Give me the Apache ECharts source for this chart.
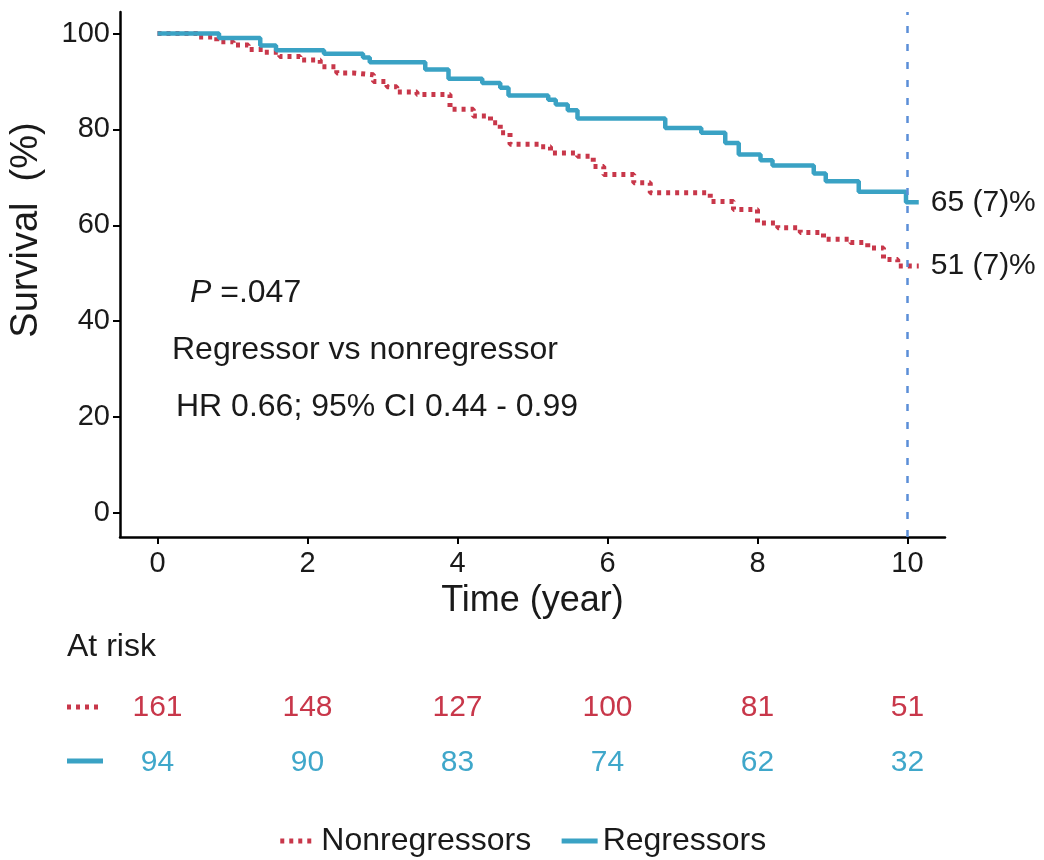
<!DOCTYPE html>
<html>
<head>
<meta charset="utf-8">
<script src="https://cdn.jsdelivr.net/npm/echarts@6/dist/echarts.min.js"></script>
<style>
html,body{margin:0;padding:0;background:#fff;}
#chart{width:1044px;height:860px;}
</style>
</head>
<body>
<div id="chart"></div>
<script>
// ---- data ----
const seriesNames = ['Nonregressors', 'Regressors'];
const xTicks = [0, 2, 4, 6, 8, 10];
const yTicks = [0, 20, 40, 60, 80, 100];
// Kaplan-Meier steps: time (year) and survival (%) after each drop
const nonTime = [0, 0.53, 0.79, 1.01, 1.21, 1.41, 1.63, 1.90, 2.17, 2.39, 2.61, 2.88, 3.06, 3.19, 3.46, 3.90, 4.21, 4.44, 4.57, 4.70, 5.10, 5.24, 5.60, 5.81, 5.95, 6.35, 6.57, 7.37, 7.68, 8.00, 8.27, 8.57, 8.88, 9.24, 9.47, 9.68, 9.87, 10.15];
const nonSurv = [100, 99.3, 98.3, 97.6, 96.7, 96.1, 95.2, 94.5, 93.1, 91.8, 91.4, 90.0, 88.9, 87.8, 87.3, 84.2, 82.8, 81.4, 79.3, 76.9, 76.4, 75.1, 74.4, 72.3, 70.6, 68.9, 66.8, 65.0, 63.3, 60.5, 59.5, 58.5, 57.1, 56.4, 55.3, 52.9, 51.5, 51.5];
const regTime = [0, 0.82, 1.37, 1.58, 2.22, 2.74, 2.83, 3.57, 3.88, 4.33, 4.57, 4.68, 5.21, 5.31, 5.47, 5.60, 6.77, 7.25, 7.57, 7.75, 8.04, 8.20, 8.75, 8.91, 9.35, 9.98, 10.15];
const regSurv = [100, 99.1, 97.5, 96.5, 95.8, 95.0, 94.0, 92.5, 90.6, 89.7, 88.7, 87.1, 86.2, 85.2, 84.0, 82.3, 80.3, 79.3, 77.2, 74.8, 73.6, 72.5, 70.8, 69.2, 67.0, 64.8, 64.8];
const endLabels = ['51 (7)%', '65 (7)%'];
// numbers at risk
const riskYears = [0, 2, 4, 6, 8, 10];
const riskNon = [161, 148, 127, 100, 81, 51];
const riskReg = [94, 90, 83, 74, 62, 32];
const cutoffYear = 10;

// ---- style ----
const RED = '#C8374A';
const BLUE = '#3AA2C4';
const BLUE_TXT = '#3FA7CA';
const DASH_BLUE = '#5B8ED8';
const INK = '#1a1a1a';
const FONT = '"Liberation Sans", Arial, sans-serif';
const RED_DASH = [4, 5];

const chart = echarts.init(document.getElementById('chart'), null, {renderer: 'canvas'});

const pair = (t, s) => t.map((v, i) => [v, s[i]]);

const option = {
  animation: false,
  backgroundColor: '#fff',
  textStyle: {fontFamily: FONT, color: INK},
  grid: [
    {left: 120, right: 99, top: 12, bottom: 323},
    {left: 120, right: 99, top: 680, height: 110}
  ],
  xAxis: [
    {
      type: 'value', gridIndex: 0, min: -0.5, max: 10.5,
      axisLine: {show: true, onZero: false, lineStyle: {color: '#000', width: 2.5}},
      axisTick: {show: true, customValues: xTicks, length: 7, lineStyle: {color: '#000', width: 2}},
      axisLabel: {customValues: xTicks, fontSize: 29, color: INK, margin: 12, fontFamily: FONT},
      splitLine: {show: false},
      name: 'Time (year)', nameLocation: 'middle', nameGap: 46,
      nameTextStyle: {fontSize: 36, color: INK, fontFamily: FONT}
    },
    {type: 'value', gridIndex: 1, min: -0.5, max: 10.5, show: false}
  ],
  yAxis: [
    {
      type: 'value', gridIndex: 0, min: -5, max: 104.5,
      axisLine: {show: true, onZero: false, lineStyle: {color: '#000', width: 2.5}},
      axisTick: {show: true, customValues: yTicks, length: 7, lineStyle: {color: '#000', width: 2}},
      axisLabel: {customValues: yTicks, fontSize: 29, color: INK, margin: 10, fontFamily: FONT},
      splitLine: {show: false}
    },
    {type: 'category', gridIndex: 1, data: seriesNames, inverse: true, show: false}
  ],
  legend: {
    data: [
      {name: seriesNames[0], itemStyle: {opacity: 0}, lineStyle: {width: 5, type: RED_DASH, color: RED}},
      {name: seriesNames[1], itemStyle: {opacity: 0}, lineStyle: {width: 5, type: 'solid', color: BLUE}}
    ],
    left: 'center', top: 820,
    itemWidth: 36, itemHeight: 14, itemGap: 28,
    textStyle: {fontSize: 32, color: INK, fontFamily: FONT}
  },
  series: [
    {
      name: seriesNames[0], type: 'line', step: 'end', symbol: 'none',
      xAxisIndex: 0, yAxisIndex: 0,
      data: pair(nonTime, nonSurv),
      lineStyle: {color: RED, width: 5, type: RED_DASH},
      itemStyle: {color: RED},
      endLabel: {show: true, formatter: endLabels[0], distance: 12, fontSize: 30, color: INK, fontFamily: FONT},
      z: 2
    },
    {
      name: seriesNames[1], type: 'line', step: 'end', symbol: 'none',
      xAxisIndex: 0, yAxisIndex: 0,
      data: pair(regTime, regSurv),
      lineStyle: {color: BLUE, width: 4.5, type: 'solid'},
      itemStyle: {color: BLUE},
      endLabel: {show: true, formatter: endLabels[1], distance: 12, fontSize: 30, color: INK, fontFamily: FONT},
      markLine: {
        silent: true, symbol: ['none', 'none'], label: {show: false},
        lineStyle: {color: DASH_BLUE, width: 2.5, type: [7, 11]},
        data: [{xAxis: cutoffYear}]
      },
      z: 3
    },
    {
      name: 'risk-non', type: 'scatter', xAxisIndex: 1, yAxisIndex: 1,
      symbolSize: 0, itemStyle: {color: RED}, silent: true,
      data: riskYears.map((t, i) => [t, seriesNames[0], riskNon[i]]),
      label: {show: true, position: 'inside', formatter: p => p.value[2], fontSize: 30, color: RED, opacity: 1, fontFamily: FONT}
    },
    {
      name: 'risk-reg', type: 'scatter', xAxisIndex: 1, yAxisIndex: 1,
      symbolSize: 0, itemStyle: {color: BLUE_TXT}, silent: true,
      data: riskYears.map((t, i) => [t, seriesNames[1], riskReg[i]]),
      label: {show: true, position: 'inside', formatter: p => p.value[2], fontSize: 30, color: BLUE_TXT, opacity: 1, fontFamily: FONT}
    }
  ],
  graphic: [
    {type: 'text', x: 27, y: 230, rotation: Math.PI / 2,
      style: {text: 'Survival  (%)', fontSize: 38, fill: INK, fontFamily: FONT, textAlign: 'center', textVerticalAlign: 'middle'}},
    {type: 'text', x: 190, y: 293,
      style: {text: '{i|P} =.047', fontSize: 32, fill: INK, fontFamily: FONT, textVerticalAlign: 'middle',
        rich: {i: {fontStyle: 'italic', fontSize: 32, fontFamily: FONT, fill: INK}}}},
    {type: 'text', x: 172, y: 350,
      style: {text: 'Regressor vs nonregressor', fontSize: 32, fill: INK, fontFamily: FONT, textVerticalAlign: 'middle'}},
    {type: 'text', x: 176, y: 407,
      style: {text: 'HR 0.66; 95% CI 0.44 - 0.99', fontSize: 32, fill: INK, fontFamily: FONT, textVerticalAlign: 'middle'}},
    {type: 'text', x: 67, y: 647,
      style: {text: 'At risk', fontSize: 32, fill: INK, fontFamily: FONT, textVerticalAlign: 'middle'}},
    {type: 'line', shape: {x1: 67, y1: 707, x2: 103, y2: 707},
      style: {stroke: RED, lineWidth: 5, lineDash: RED_DASH}},
    {type: 'line', shape: {x1: 67, y1: 761, x2: 103, y2: 761},
      style: {stroke: BLUE, lineWidth: 5}}
  ]
};

chart.setOption(option);
</script>
</body>
</html>
